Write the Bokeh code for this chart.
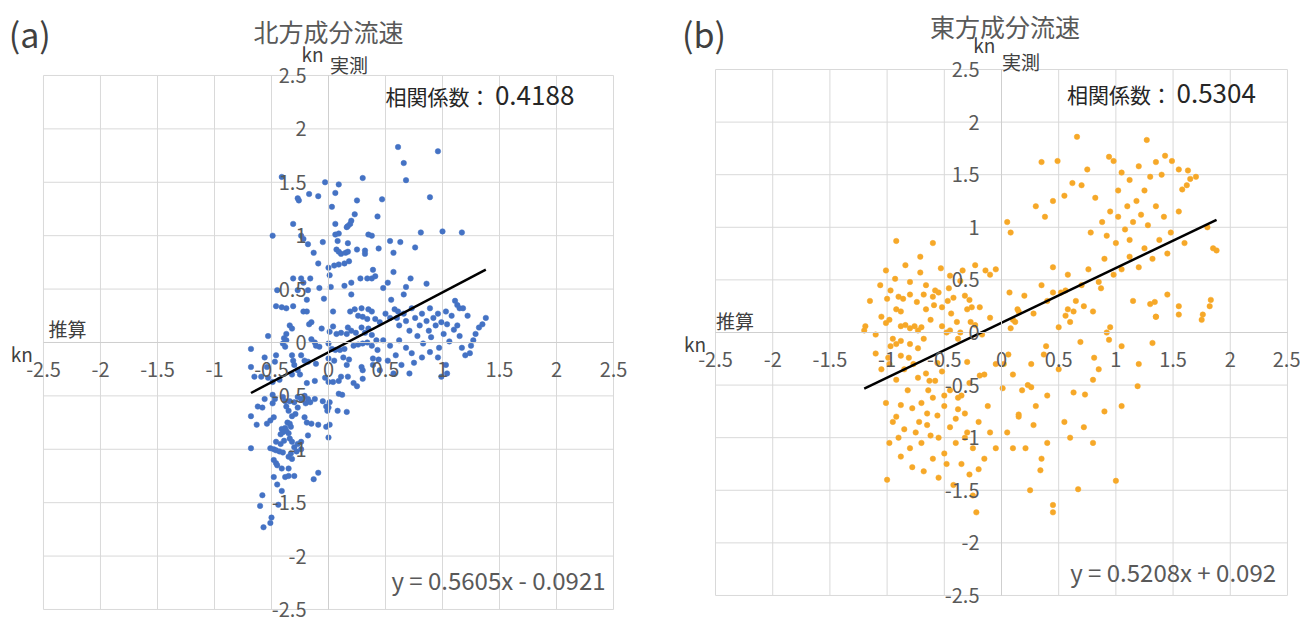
from bokeh.plotting import figure
from bokeh.models import Range1d, FixedTicker, Label, ColumnDataSource
from bokeh.layouts import row
from bokeh.embed import file_html
from bokeh.resources import INLINE

FONT = "Noto Sans CJK JP"

TICKS = [-2.5, -2, -1.5, -1, -0.5, 0, 0.5, 1, 1.5, 2, 2.5]
TICK_LABELS = ["-2.5", "-2", "-1.5", "-1", "-0.5", "0", "0.5", "1", "1.5", "2", "2.5"]

# ---------------- (a) North component: estimated (x) vs measured (y), kn
A_X = [0.61, 0.96, 0.66, 0.68, 0.30, -0.03, 0.09, -0.41, -0.27, -0.26, -0.17, -0.09, 0.06, 0.25, 0.47, 0.89,
       0.03, 0.23, 0.43, 0.20, 0.19, 0.17, 0.16, -0.31, 0.06, -0.49, -0.24, -0.22, -0.18, 0.06, 0.09, 0.35,
       0.38, 0.54, 0.63, 0.81, 1.00, 1.17, 0.76, -0.05, 0.08, 0.17, 0.07, 0.09, 0.11, 0.15, 0.17, 0.25,
       0.32, 0.32, -0.13, 0.44, 0.57, -0.09, 0.00, 0.05, 0.09, 0.14, 0.18, 0.01, 0.39, 0.57, -0.31, -0.24,
       -0.16, -0.22, -0.45, -0.27, -0.18, -0.08, 0.02, 0.14, 0.20, 0.28, 0.34, 0.38, 0.41, 0.48, 0.52, 0.68,
       0.72, 0.86, 0.66, 0.55, -0.04, 0.20, -0.19, -0.46, -0.41, -0.37, -0.31, 1.11, 1.13, 1.15, 0.58, 0.61,
       -0.22, -0.19, 0.04, 0.19, 0.23, 0.29, 0.35, 0.38, 0.26, 0.30, 0.34, 0.41, 0.45, -0.15, -0.17, -0.34,
       -0.32, -0.37, -0.06, 0.04, 0.01, 0.07, 0.11, 0.17, 0.20, 0.16, 0.24, 0.29, 0.32, 0.35, 0.38, -0.53,
       -0.39, -0.37, -0.40, -0.38, -0.15, -0.12, -0.11, -0.08, 0.00, 0.03, 0.06, 0.10, 0.14, 0.22, 0.26, 0.30,
       0.34, 0.38, 0.42, -0.56, -0.46, -0.47, -0.54, -0.32, -0.31, -0.30, -0.32, -0.24, -0.21, -0.18, -0.11, 0.00,
       0.05, 0.13, 0.18, 0.16, 0.29, 0.30, 0.39, 0.44, -0.53, -0.49, -0.43, -0.27, -0.25, -0.19, -0.12, -0.03,
       0.00, 0.04, 0.11, 0.17, -0.05, 0.01, -0.02, 0.09, -0.49, -0.47, -0.38, -0.30, -0.68, -0.68, -0.65, -0.59,
       0.09, 0.30, -0.56, -0.62, -0.58, -0.49, -0.40, -0.34, -0.27, -0.24, -0.21, -0.18, -0.16, -0.20, -0.12, -0.68,
       -0.27, -0.29, -0.32, -0.35, -0.37, -0.48, -0.54, -0.51, -0.63, -0.21, -0.15, -0.19, -0.09, -0.02, 0.01, -0.01,
       0.00, 0.08, -0.36, -0.34, -0.33, -0.38, -0.41, -0.40, -0.37, -0.35, -0.42, -0.18, 0.00, -0.68, -0.51, -0.48,
       -0.46, -0.43, -0.40, -0.46, -0.42, -0.39, -0.34, -0.32, -0.27, -0.24, -0.30, -0.24, -0.33, -0.28, -0.32, -0.35,
       -0.48, -0.46, -0.45, -0.41, -0.35, -0.48, -0.38, -0.35, -0.30, -0.13, -0.09, -0.45, -0.41, -0.58, -0.60, -0.44,
       -0.50, -0.51, -0.57,
       0.50, 0.54, 0.60, 0.62, 0.66, 0.68, 0.71, 0.73, 0.76, 0.78, 0.80, 0.82, 0.83, 0.86, 0.88, 0.89,
       0.90, 0.92, 0.94, 0.96, 0.97, 0.99, 1.01, 1.03, 1.04, 1.06, 1.08, 1.10, 0.62, 0.68, 0.73, 0.54,
       0.59, 0.48, 0.52, 0.64, 0.75, 0.82, 0.89, 0.96, 1.03, 1.04, 0.99, 1.13, 1.15, 1.17, 1.20, 1.24,
       1.27, 1.29, 1.32, 1.35, 1.38, 1.25, 1.22, 1.18, 0.43, 0.39, 0.45, 0.57, 0.71,
       0.22, 0.12, 0.25, 0.16]
A_Y = [1.83, 1.79, 1.68, 1.52, 1.54, 1.50, 1.48, 1.55, 1.35, 1.33, 1.39, 1.37, 1.40, 1.33, 1.34, 1.36,
       1.27, 1.20, 1.18, 1.14, 1.11, 1.09, 1.08, 1.11, 1.11, 1.00, 1.00, 0.97, 0.92, 1.01, 1.02, 1.01,
       1.00, 0.95, 0.94, 1.03, 1.04, 1.03, 0.89, 0.94, 0.95, 0.93, 0.87, 0.85, 0.83, 0.84, 0.85, 0.87,
       0.86, 0.83, 0.84, 0.88, 0.84, 0.74, 0.70, 0.72, 0.73, 0.74, 0.76, 0.63, 0.68, 0.66, 0.60, 0.60,
       0.60, 0.56, 0.49, 0.49, 0.49, 0.51, 0.52, 0.53, 0.56, 0.60, 0.60, 0.60, 0.62, 0.51, 0.56, 0.52,
       0.60, 0.55, 0.45, 0.40, 0.41, 0.45, 0.40, 0.34, 0.33, 0.32, 0.34, 0.39, 0.35, 0.32, 0.31, 0.29,
       0.29, 0.29, 0.29, 0.29, 0.31, 0.32, 0.31, 0.29, 0.25, 0.24, 0.22, 0.22, 0.19, 0.19, 0.17, 0.16,
       0.13, 0.08, 0.13, 0.15, 0.10, 0.08, 0.09, 0.14, 0.11, 0.08, 0.09, 0.14, 0.09, 0.13, 0.07, 0.06,
       0.04, 0.02, -0.01, -0.04, 0.03, 0.00, -0.03, -0.04, -0.01, -0.06, -0.07, -0.07, -0.06, -0.03, -0.02, -0.01,
       0.00, -0.03, 0.02, -0.14, -0.12, -0.18, -0.23, -0.12, -0.17, -0.21, -0.30, -0.12, -0.17, -0.18, -0.20, -0.15,
       -0.17, -0.14, -0.16, -0.21, -0.23, -0.26, -0.15, -0.16, -0.33, -0.37, -0.35, -0.26, -0.30, -0.38, -0.36, -0.33,
       -0.37, -0.37, -0.32, -0.32, -0.55, -0.56, -0.60, -0.48, -0.49, -0.53, -0.55, -0.56, -0.06, -0.23, -0.32, -0.32,
       -0.36, -0.34, -0.53, -0.60, -0.61, -0.57, -0.51, -0.55, -0.51, -0.53, -0.50, -0.53, -0.56, -0.57, -0.53, -0.69,
       -0.61, -0.67, -0.69, -0.64, -0.60, -0.70, -0.76, -0.73, -0.77, -0.70, -0.76, -0.75, -0.77, -0.79, -0.77, -0.64,
       -0.61, -0.64, -0.75, -0.76, -0.79, -0.80, -0.81, -0.84, -0.83, -0.85, -0.86, -0.87, -0.89, -0.99, -0.99, -1.00,
       -1.01, -1.02, -1.03, -0.93, -0.95, -0.92, -0.90, -0.93, -0.95, -0.93, -0.98, -1.00, -1.04, -1.02, -1.09, -1.07,
       -1.10, -1.13, -1.15, -1.18, -1.18, -1.26, -1.26, -1.25, -1.25, -1.28, -1.22, -1.33, -1.39, -1.43, -1.53, -1.52,
       -1.64, -1.69, -1.73,
       0.27, 0.23, 0.23, 0.16, 0.27, 0.20, 0.11, 0.32, 0.23, 0.06, 0.16, 0.27, -0.01, 0.20, 0.11, 0.32,
       0.05, 0.23, 0.16, 0.27, -0.05, 0.19, 0.08, 0.29, 0.17, 0.01, 0.25, 0.12, 0.02, -0.05, -0.10, -0.03,
       -0.12, 0.02, -0.17, -0.21, -0.19, -0.14, -0.09, -0.14, -0.21, -0.29, -0.32, 0.16, 0.06, -0.05, -0.12, -0.10,
       0.02, 0.08, 0.14, 0.17, 0.23, -0.03, 0.25, 0.32, -0.07, -0.21, -0.26, -0.29, -0.29,
       -0.38, -0.49, -0.41, -0.65]
A_SLOPE, A_INTERCEPT = 0.5605, -0.0921
A_R = "0.4188"

# ---------------- (b) East component
B_X = [0.35, 0.49, 0.66, 0.70, 0.75, 0.62, 0.55, 0.45, 0.38, 0.30, 0.94, 0.98, 1.05, 1.12, 1.20, 1.27,
       1.35, 1.43, 1.49, 1.55, 1.63, 1.65, 1.62, 1.40, 1.30, 1.25, 1.18, 1.10, 1.02, 0.95, 0.88, 0.82,
       0.78, 0.92, 1.00, 1.08, 1.15, 1.22, 1.28, 1.35, 1.42, 1.48, 1.55, 1.60, 1.45, 1.38, 1.32, 1.25,
       1.20, 1.12, 1.05, 0.98, 0.90, 0.85, 0.76, 0.70, 0.65, 0.58, 0.52, 0.45, 0.40, 0.35, 0.28, 0.20,
       0.12, 0.08, 0.05, -0.05, -0.10, 0.15, 1.80, 1.85, 1.82, 1.88, 1.75, 1.55, 1.35, 1.15, 0.95, 0.80,
       0.60, 1.34, 1.35, 1.55, 1.76, 1.83, 1.45, 1.30, 1.32, 1.19, 1.05, 0.81, 0.80, 0.73, 0.63, 0.69,
       0.39, 0.37, 0.56, 0.58, 0.63, 0.45, 0.56, 0.26, 0.23, 0.26, 0.14, 0.10, 0.08, 0.06, 0.01, 0.07,
       0.92, 0.94, 0.87, 1.70, 1.58, 1.02, 1.12, 0.72, 0.50,
       -1.19, -1.10, -1.01, -0.92, -0.88, -0.88, -0.84, -0.80, -0.76, -0.73, -0.70, -0.95, -0.92, -0.88, -0.97, -0.80,
       -0.73, -0.68, -0.99, -0.88, -0.81, -0.52, -0.48, -0.45, -0.39, -0.66, -0.59, -0.52, -0.30, -0.26, -0.19, -0.36,
       -0.38, -0.23, -0.17, -0.30, -0.19, -0.56, -0.52, -0.58, -0.73, -0.66, -0.63, -1.01, -0.88, -0.78, -0.70, -0.65,
       -0.56, -0.38, -0.32, -1.00, -0.90, -0.86, -0.80, -0.74, -0.68, -0.60, -0.55, -0.47, -0.42, -0.32, -0.28,
       -0.92, -0.60, -0.71, -0.84, -1.01, -0.93, -0.80, -0.53, -0.45, -0.34, -0.23, -0.14, -1.06, -0.97, -0.66, -0.58,
       -0.46, -0.36, -0.71, -1.15, -1.20, -1.05, -0.98, -0.62, -0.44, -0.27, -0.10,
       -1.00, -0.95, -0.90, -0.85, -0.80, -0.75, -0.70, -0.65, -0.60, -0.55, -0.50, -0.45, -0.40, -0.35, -0.30, -0.25,
       -0.20, -0.78, -0.68, -0.55, -0.42, -0.88, -0.98, -0.92, -0.72, -0.62, -0.48, -0.28, -0.22, -0.25, -0.15, -0.10,
       -0.05, -0.12, -0.20, -0.35, -0.45, -0.28, -0.82, -0.92, -1.05, -1.10, -0.98, -0.60, -0.50, -0.40, -0.32,
       -0.85, -0.77, -0.64, -0.50, -0.38, -0.15, -0.05,
       0.05, 0.10, 0.15, 0.21, 0.25, 0.34, 0.35, 0.40, 0.45, 0.45, 0.55, 0.60, 0.67, 0.72, 0.80, 0.90,
       1.00, 1.05, 0.30, 0.18, 0.10, 0.40, 0.50, 1.20, 0.28, 0.85, 0.02, 0.15]
B_Y = [1.62, 1.63, 1.86, 1.40, 1.55, 1.42, 1.30, 1.25, 1.10, 1.20, 1.67, 1.63, 1.52, 1.45, 1.58, 1.83,
       1.62, 1.68, 1.63, 1.55, 1.54, 1.46, 1.40, 1.50, 1.48, 1.35, 1.25, 1.20, 1.10, 1.15, 1.05, 1.28,
       0.95, 0.92, 0.85, 0.98, 1.05, 1.12, 1.02, 1.20, 1.10, 0.95, 1.15, 0.85, 0.75, 0.88, 0.70, 0.80,
       0.62, 0.72, 0.60, 0.55, 0.70, 0.48, 0.60, 0.45, 0.30, 0.55, 0.38, 0.62, 0.30, 0.45, 0.18, 0.35,
       0.10, 0.95, 1.05, 0.60, 0.55, 0.20, 1.00, 0.80, 0.25, 0.78, 0.12, 0.25, 0.15, 0.30, 0.05, 0.20,
       0.10, 0.29, 0.15, 0.17, 0.17, 0.31, 0.36, 0.27, -0.10, -0.51, -0.13, -0.24, -0.45, -0.59, -0.57, -0.09,
       -0.13, -0.21, 0.16, 0.22, 0.20, 0.38, 0.40, -0.30, -0.50, -0.52, 0.22, 0.12, 0.04, -0.21, -0.53, 0.38,
       0.00, -0.07, 0.42, 1.48, 1.36, 1.35, 0.88, 0.25, 0.05,
       0.06, -0.02, 0.09, 0.22, 0.20, 0.06, 0.07, 0.04, 0.06, 0.02, 0.05, -0.06, -0.11, -0.08, -0.13, -0.11,
       -0.15, -0.06, -0.24, -0.22, -0.24, 0.06, 0.00, 0.02, 0.10, 0.22, 0.26, 0.24, 0.22, 0.24, 0.24, 0.00,
       -0.06, 0.07, -0.02, -0.28, -0.41, -0.29, -0.37, -0.46, -0.43, -0.39, -0.46, -0.67, -0.69, -0.72, -0.67, -0.77,
       -0.79, -0.73, -0.77, 0.32, 0.34, 0.32, 0.36, 0.29, 0.36, 0.34, 0.38, 0.30, 0.33, 0.35, 0.31,
       0.87, 0.85, 0.72, 0.64, 0.59, 0.51, 0.48, 0.61, 0.54, 0.59, 0.64, 0.59, 0.45, 0.40, 0.45, 0.40,
       0.42, 0.49, 0.57, 0.30, 0.02, 0.15, 0.12, 0.12, 0.18, 0.10, 0.14,
       -1.40, -0.85, -1.00, -0.92, -1.10, -0.95, -1.05, -0.88, -1.20, -1.00, -1.15, -0.90, -1.05, -1.25, -0.95, -1.10,
       -1.30, -1.28, -1.32, -1.38, -1.45, -1.18, -1.05, -0.80, -0.85, -0.98, -1.25, -1.35, -1.71, -1.55, -1.20, -0.95,
       -1.10, -0.70, -0.85, -0.60, -0.55, -0.48, -0.55, -0.45, -0.35, -0.20, -0.30, -0.62, -0.70, -0.82, -1.00,
       -0.35, -0.30, -0.55, -0.60, -0.62, -0.40, -0.30,
       -0.95, -1.10, -0.80, -1.10, -1.50, -1.31, -1.20, -1.05, -1.64, -1.71, -0.85, -1.00, -1.49, -0.90, -1.05, -0.75,
       -1.41, -0.70, -0.70, -0.55, -0.40, -0.60, -0.35, -0.30, -0.88, -0.35, -0.30, -0.78]
B_SLOPE, B_INTERCEPT = 0.5208, 0.092
B_R = "0.5304"

LO, HI = TICKS[0], TICKS[-1]


def make_panel(xs, ys, color, slope, intercept, eq_text, r_text, tag, title, size, xr, yr, pos):
    w, h = size
    p = figure(width=w, height=h, x_range=Range1d(*xr), y_range=Range1d(*yr),
               output_backend="svg", toolbar_location=None, title=None,
               min_border_left=0, min_border_right=0, min_border_top=0, min_border_bottom=0)
    p.outline_line_color = None
    p.background_fill_color = "white"
    p.border_fill_color = "white"
    p.grid.grid_line_color = None

    # plot-area grid (every tick, bounded to the +-2.5 box)
    p.segment(x0=TICKS, y0=[LO] * len(TICKS), x1=TICKS, y1=[HI] * len(TICKS),
              line_color="#d9d9d9", line_width=1, level="underlay")
    p.segment(x0=[LO] * len(TICKS), y0=TICKS, x1=[HI] * len(TICKS), y1=TICKS,
              line_color="#d9d9d9", line_width=1, level="underlay")

    overrides = {t: s for t, s in zip(TICKS, TICK_LABELS)}
    for ax in (p.xaxis[0], p.yaxis[0]):
        ax.ticker = FixedTicker(ticks=TICKS)
        ax.fixed_location = 0
        ax.bounds = (LO, HI)
        ax.axis_line_color = "#cfcfcf"
        ax.major_tick_line_color = None
        ax.minor_tick_line_color = None
        ax.major_tick_out = 0
        ax.major_tick_in = 0
        ax.major_label_text_font = FONT
        ax.major_label_text_font_size = "20px"
        ax.major_label_text_color = "#595959"
        ax.major_label_overrides = overrides
    p.xaxis[0].major_label_standoff = 20
    p.yaxis[0].major_label_standoff = 22

    src = ColumnDataSource(dict(x=xs, y=ys))
    p.scatter("x", "y", source=src, size=5.5, fill_color=color, line_color=color, line_width=0.5)

    x0, x1 = min(xs), max(xs)
    p.line([x0, x1], [slope * x0 + intercept, slope * x1 + intercept], line_color="black", line_width=2.5)

    def lab(x, y, text, size, color, align="center", base="middle"):
        p.add_layout(Label(x=x, y=y, text=text, text_font=FONT, text_font_size=size,
                           text_color=color, text_align=align, text_baseline=base))

    lab(pos["tag"][0], pos["tag"][1], tag, "34px", "#404040")
    lab(pos["title"][0], pos["title"][1], title, "25px", "#595959")
    lab(pos["kn_y"][0], pos["kn_y"][1], "kn", "19px", "#404040")
    lab(pos["ytitle"][0], pos["ytitle"][1], "実測", "19px", "#404040")
    lab(pos["xtitle"][0], pos["xtitle"][1], "推算", "19px", "#404040")
    lab(pos["kn_x"][0], pos["kn_x"][1], "kn", "19px", "#404040")
    lab(pos["rlab"][0], pos["rlab"][1], "相関係数：", "21px", "#262626", align="right")
    lab(pos["rval"][0], pos["rval"][1], r_text, "26px", "#262626", align="left")
    lab(pos["eq"][0], pos["eq"][1], eq_text, "24px", "#595959", align="right")
    return p


pos_a = dict(tag=(-2.62, 2.89), title=(0.0, 2.92), kn_y=(-0.14, 2.71), ytitle=(0.18, 2.60),
             xtitle=(-2.29, 0.13), kn_x=(-2.69, -0.10), rlab=(1.42, 2.31), rval=(1.46, 2.31),
             eq=(2.43, -2.22))
pos_b = dict(tag=(-2.60, 2.84), title=(0.03, 2.91), kn_y=(-0.15, 2.74), ytitle=(0.17, 2.58),
             xtitle=(-2.33, 0.11), kn_x=(-2.68, -0.10), rlab=(1.49, 2.27), rval=(1.53, 2.27),
             eq=(2.40, -2.27))

pa = make_panel(A_X, A_Y, "#4472C4", A_SLOPE, A_INTERCEPT, "y = 0.5605x - 0.0921", A_R,
                "(a)", "北方成分流速", (652, 622), (-2.877, 2.842), (-2.622, 3.202), pos_a)
pb = make_panel(B_X, B_Y, "#F6A828", B_SLOPE, B_INTERCEPT, "y = 0.5208x + 0.092", B_R,
                "(b)", "東方成分流速", (648, 622), (-3.051, 2.614), (-2.757, 3.156), pos_b)

layout = row(pa, pb)
open("out.html", "w").write(file_html(layout, INLINE))
